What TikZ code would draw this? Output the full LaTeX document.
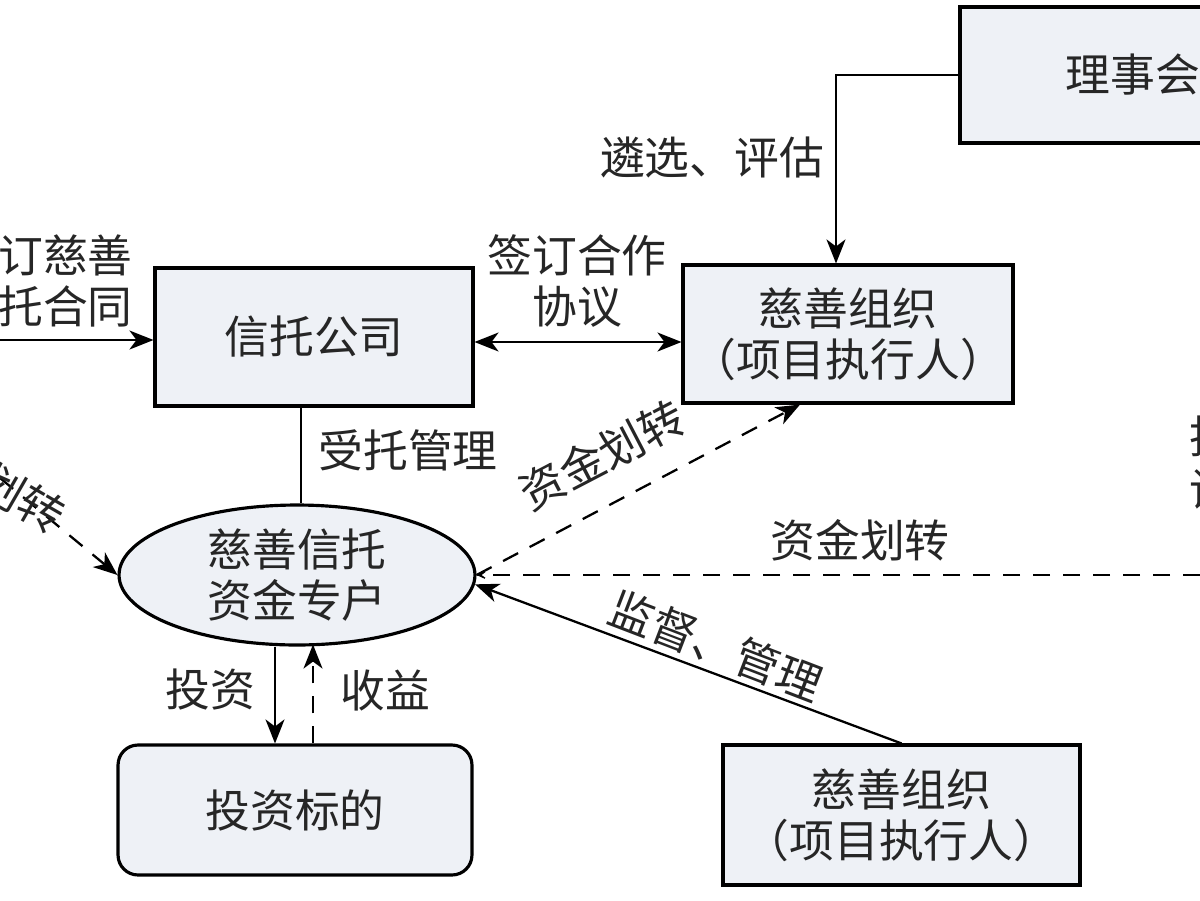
\documentclass[tikz,border=0pt]{standalone}
\usepackage{fontspec}
\setmainfont{Noto Sans CJK SC}
\usetikzlibrary{shapes.geometric,arrows.meta}
\definecolor{boxfill}{RGB}{238,241,246}
\newcommand\diafont{\fontsize{25.5}{29}\selectfont}
\begin{document}
\begin{tikzpicture}[x=0.02cm,y=-0.02cm,
  every node/.style={font=\diafont,text=black!85},
  box/.style={draw,line width=1.8pt,fill=boxfill,inner sep=0pt,align=center},
  ebox/.style={draw,line width=1.8pt,fill=boxfill,ellipse,inner sep=0pt,align=center},
  conn/.style={line width=1.3pt},
  arr/.style={conn,-{Stealth[length=4.8mm,width=3.8mm,inset=1.4mm]}},
  darr/.style={conn,{Stealth[length=4.8mm,width=3.8mm,inset=1.4mm]}-{Stealth[length=4.8mm,width=3.8mm,inset=1.4mm]}},
  smallarr/.style={conn,-{Stealth[length=2.8mm,width=2.6mm,inset=1.8mm]}},
  dsh/.style={dash pattern=on 0.34cm off 0.26cm},
  lbl/.style={inner sep=0pt,align=center}]
\useasboundingbox (0,0) rectangle (1200,900);
\fill[white] (0,0) rectangle (1200,900);
\clip (0,0) rectangle (1200,900);

% nodes
\node[box,minimum width=6.92cm,minimum height=2.72cm] (lsh) at (1133,75) {理事会};
\node[box,minimum width=6.6cm,minimum height=2.76cm] (cs1) at (848,334) {慈善组织\\（项目执行人）};
\node[box,minimum width=6.36cm,minimum height=2.76cm] (xt) at (314,337) {信托公司};
\node[ebox,minimum width=7.12cm,minimum height=2.8cm] (el) at (297,575) {慈善信托\\资金专户};
\node[box,rounded corners=0.4cm,minimum width=7.08cm,minimum height=2.6cm] (tz) at (295,810) {投资标的};
\node[box,minimum width=7.14cm,minimum height=2.8cm] (cs2) at (901.5,815) {慈善组织\\（项目执行人）};

\coordinate (lin) at (0,340);
\coordinate (ld) at (0,478);
\coordinate (rd) at (1200,575);

% connectors
\draw[arr] (lsh.west) -| ([xshift=-0.24cm]cs1.north);
\draw[darr] ([yshift=-0.1cm]xt.east) -- ([yshift=-0.1cm]xt.east -| cs1.west);
\draw[arr] (lin) -- (xt.west |- lin);
\draw[conn] ([xshift=-0.26cm]xt.south) -- ([xshift=-0.26cm]xt.south |- el.north);
\draw[arr,dsh] (ld) -- (el.west);
\draw[arr] ([xshift=-0.44cm]el.south) -- ([xshift=-0.44cm]el.south |- tz.north);
\draw[arr,dsh] ([xshift=0.36cm]tz.north) -- ([xshift=0.36cm,yshift=0.04cm]tz.north |- el.south);
\draw[arr,dsh] (el.east) -- ([xshift=-0.96cm]cs1.south);
\draw[smallarr,dsh] (rd) -- (el.east);
\draw[arr] (cs2.north) -- (el.-3);

% labels
\node[lbl] (l1) at (712,157) {遴选、评估};
\node[lbl] (l2) at (577,281) {签订合作\\协议};
\node[lbl,anchor=east,align=right] (l3) at (133,281) {订慈善\\托合同};
\node[lbl] (l4) at (408,450) {受托管理};
\node[lbl,rotate=-30] (l5) at (22,498) {划转};
\node[lbl,rotate=27.5] (l6) at (602,455) {资金划转};
\node[lbl] (l7) at (860,540) {资金划转};
\node[lbl] (l8) at (210,690) {投资};
\node[lbl] (l9) at (385,690) {收益};
\node[lbl,rotate=-21] (l10) at (716,646) {监督、管理};
\node[lbl] (l11) at (1212,437) {投};
\node[lbl] (l12) at (1212,490) {设};
\end{tikzpicture}
\end{document}
